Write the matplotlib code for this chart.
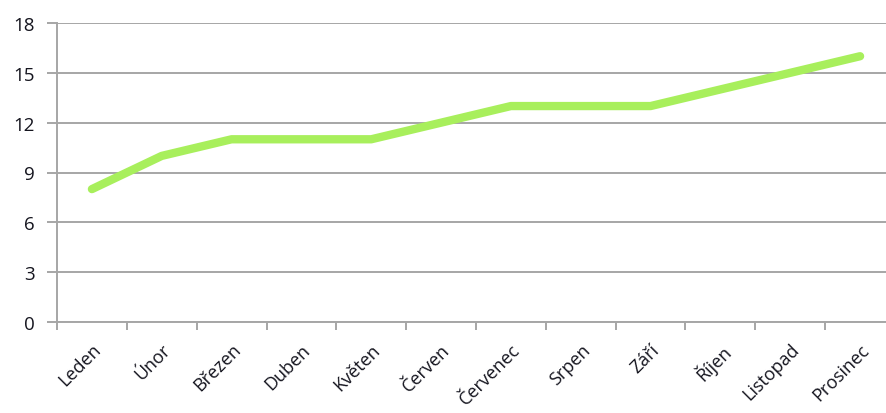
import numpy as np
import matplotlib.pyplot as plt
from matplotlib.ticker import FixedLocator

# Data
mesice = ['Leden', 'Únor', 'Březen', 'Duben', 'Květen', 'Červen',
          'Červenec', 'Srpen', 'Září', 'Říjen', 'Listopad', 'Prosinec']
hodnoty = [8, 10, 11, 11, 11, 12, 13, 13, 13, 14, 15, 16]
y_ticks = [0, 3, 6, 9, 12, 15, 18]

plt.rcParams['font.family'] = ['Open Sans', 'DejaVu Sans']

fig = plt.figure(figsize=(8.86, 4.14), dpi=100)
ax = fig.add_axes([57 / 886, 91 / 414, 838 / 886, 299 / 414])

x = np.arange(len(mesice))
ax.plot(x, hodnoty, color='#a8ef5c', linewidth=6, solid_capstyle='round',
        solid_joinstyle='round', zorder=3)

ax.set_xlim(-0.5, len(mesice) - 0.5)
ax.set_ylim(0, 18)
ax.set_yticks(y_ticks)
ax.set_xticks(x)
ax.set_xticklabels(mesice, rotation=45, ha='right', rotation_mode='anchor')
ax.xaxis.set_minor_locator(FixedLocator(np.arange(-0.5, len(mesice), 1)))

ax.grid(axis='y', color='#a6a6a6', linewidth=1.4, zorder=1)
ax.set_axisbelow(True)

for s in ['top', 'right']:
    ax.spines[s].set_visible(False)
for s in ['left', 'bottom']:
    ax.spines[s].set_color('#a6a6a6')
    ax.spines[s].set_linewidth(1.4)

ax.tick_params(axis='y', length=7, width=1.4, color='#a6a6a6',
               labelsize=13.5, labelcolor='#15151f', pad=9)
ax.tick_params(axis='x', which='major', length=0, labelsize=13,
               labelcolor='#15151f', pad=13)
ax.tick_params(axis='x', which='minor', length=6, width=1.4, color='#a6a6a6')

fig.savefig('out.png', dpi=100)
